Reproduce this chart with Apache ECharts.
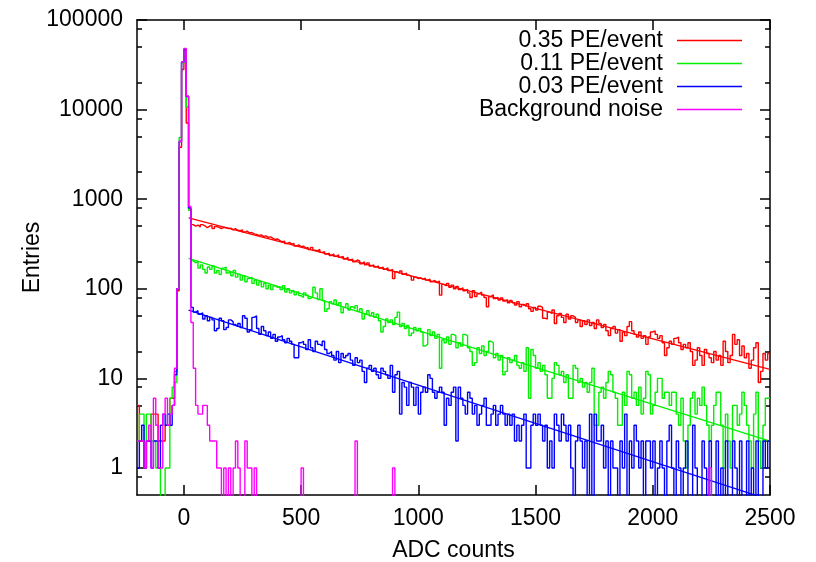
<!DOCTYPE html>
<html><head><meta charset="utf-8">
<script src="https://cdn.jsdelivr.net/npm/echarts@6/dist/echarts.min.js"></script>
<style>html,body{margin:0;padding:0;background:#fff}#c{width:816px;height:562px}</style>
</head><body><div id="c"></div>
<script>
// histogram bin layout (ADC counts): left edge of first bin and bin width
const binStart = -200, binWidth = 10;

// bin contents, 10 bins per row, rows start at -200, -100, 0, 100, ... 2400
const redCounts = [
  5,2,2,1,2,2,4,4,4,2,
  2,2,3,3,6,6,12,95,3800,28000,
  46000,7100,780,520,500,515,490,520,505,480,
  500,510,470,495,485,470,485,480,470,475,
  455,470,450,445,455,430,440,420,425,410,
  405,395,400,385,390,375,380,365,355,360,
  345,335,340,320,330,315,320,300,310,295,
  300,285,290,275,290,270,265,275,255,260,
  245,250,235,245,230,240,225,230,215,225,
  210,215,200,210,205,190,200,185,195,180,
  185,175,180,170,175,165,172,160,165,130,
  155,150,158,145,150,142,138,125,135,130,
  133,128,132,125,128,120,124,118,122,85,
  112,108,115,104,110,100,106,98,103,95,
  99,90,80,95,82,88,92,85,80,63,
  82,86,78,80,75,79,73,76,70,74,
  70,66,72,63,67,64,68,60,56,62,
  58,64,62,47,46,55,53,58,41,50,
  53,48,42,52,46,50,48,42,45,38,
  44,40,45,39,42,36,45,41,37,40,
  34,30,36,38,32,35,26,33,30,38,
  43,34,31,29,33,28,30,24,29,33,
  34,31,28,30,25,18,22,26,24,28,
  29,25,21,24,22,25,20,14,16,22,
  18,14,21,19,17,15,20,16,18,14,
  26,20,15,18,31,24,27,18,23,17,
  19,13,16,22,25,9,12,19,16,19
];
const greenCounts = [
  2,4,4,1,4,4,2,2,1,1,
  0,0,1,1,6,8,9,100,4900,33000,
  47000,10700,750,205,195,200,170,185,165,150,
  175,165,180,150,160,145,170,175,150,155,
  140,160,135,145,125,140,120,130,135,115,
  125,110,120,105,115,100,110,98,108,104,
  105,98,108,92,100,90,95,86,92,84,
  80,90,85,78,82,104,90,76,100,74,
  56,60,72,68,75,66,70,54,62,68,
  58,63,60,65,56,60,46,52,57,50,
  54,48,52,44,33,38,46,42,45,40,
  48,55,38,41,36,39,30,32,37,34,
  36,33,23,24,35,30,33,28,31,13,
  27,25,29,24,31,30,22,25,23,31,
  30,22,20,14,15,22,19,23,18,20,
  26,25,17,19,16,18,11,12,17,15,
  16,18,14,13,15,12,22,6,21,18,
  13,15,12,14,11,6,6,10,15,14,
  11,12,9,11,6,6,14,13,9,10,
  8,9,7,9,13,3,3,7,8,6,
  9,12,11,7,6,3,3,7,5,12,
  11,6,7,5,8,4,6,12,11,4,
  5,7,10,10,6,7,7,5,7,7,
  4,3,6,2,1,3,6,7,4,6,
  5,8,5,3,2,3,5,7,7,3,
  1,4,2,1,5,5,3,4,7,5,
  3,2,1,4,7,2,1,3,6,6
];
const blueCounts = [
  1,2,3,1,2,2,1,2,2,1,
  3,4,3,4,3,5,11,100,4400,34000,
  47000,14000,800,62,55,57,52,54,46,50,
  44,48,45,34,36,47,44,35,37,45,
  43,40,38,41,37,50,47,33,35,48,
  50,36,31,38,34,30,33,28,31,26,
  29,30,27,25,28,26,24,17,17,25,
  26,24,21,27,22,20,26,24,23,26,
  21,19,20,18,16,20,15,19,17,18,
  19,16,14,17,15,16,12,9,13,14,
  12,13,11,10,13,12,11,10,14,7,
  11,12,4,9,8,5,9,8,5,8,
  4,7,8,7,11,10,7,6,7,8,
  7,3,6,5,7,8,2,8,6,5,
  4,7,6,4,5,3,4,5,6,3,
  3,4,5,3,4,5,4,3,4,3,
  4,2,3,2,3,4,1,1,3,4,
  3,4,3,2,3,1,2,1,4,3,
  2,4,3,2,3,1,0,2,3,2,
  1,2,0,4,0,4,2,2,3,1,
  2,0,2,1,1,0,2,1,4,0,
  2,1,3,2,1,2,0,2,2,1,
  2,0,1,2,1,0,2,3,1,0,
  2,1,0,1,2,0,0,3,1,0,
  0,2,1,0,2,0,0,2,0,1,
  0,2,0,0,2,1,0,2,0,0,
  2,0,1,0,2,0,0,2,1,2
];
const noiseCounts = [
  2,2,2,1,2,3,1,6,3,1,
  1,4,6,3,4,5,13,100,4400,34000,
  48000,14200,830,42,13,5,4,4,5,5,
  3,2,2,2,1,1,0,1,0,1,
  0,1,2,1,0,0,2,1,1,0,
  1,0,0,0,0,0,0,0,0,0,
  0,0,0,0,0,0,0,0,0,0,
  1,0,0,0,0,0,0,0,0,0,
  0,0,0,0,0,0,0,0,0,0,
  0,0,0,2,0,0,0,0,0,0,
  0,0,0,0,0,0,0,0,0,1,
  0,0,0,0,0,0,0,0,0,0,
  0,0,0,0,0,0,0,0,0,0,
  0,0,0,0,0,0,0,0,0,0,
  0,0,0,0,0,0,0,0,0,0,
  0,0,0,0,0,0,0,0,0,0,
  0,0,0,0,0,0,0,0,0,0,
  0,0,0,0,0,0,0,0,0,0,
  0,0,0,0,0,0,0,0,0,0,
  0,0,0,0,0,0,0,0,0,0,
  0,0,0,0,0,0,0,0,0,0,
  0,0,0,0,0,0,0,0,0,0,
  0,0,0,0,0,0,0,0,0,0,
  0,0,0,0,0,0,0,0,0,0,
  0,0,0,0,1,0,0,0,0,0,
  0,0,0,0,0,0,0,0,0,0,
  0,0,0,0,0,0,0,0,0,0
];

// exponential fits: [ADC, entries] at both ends
const redFit = [[20, 620], [2500, 12.6]];
const greenFit = [[20, 219], [2500, 2.0]];
const blueFit = [[20, 58], [2500, 0.44]];

const seriesNames = ['0.35 PE/event', '0.11 PE/event', '0.03 PE/event', 'Background noise'];
const seriesColors = ['#ff0000', '#00f000', '#0000ff', '#ff00ff'];

const xTicks = [0, 500, 1000, 1500, 2000, 2500];
const yTicks = [1, 10, 100, 1000, 10000, 100000];
const yMinorTicks = [0.8, 2, 5, 8, 20, 50, 80, 200, 500, 800, 2000, 5000, 8000, 20000, 50000, 80000];

const X_MIN = -200, X_MAX = 2500, Y_MIN = 0.5, Y_MAX = 100000;
const EMPTY = 0.1; // empty bins drawn below the axis floor, as on a log plot

function stepData(counts) {
  const pts = counts.map((v, i) => [binStart + i * binWidth, v > 0 ? v : EMPTY]);
  const last = counts[counts.length - 1];
  pts.push([binStart + counts.length * binWidth, last > 0 ? last : EMPTY]);
  return pts;
}

const font = 'Liberation Sans, Arial, Helvetica, sans-serif';
const FS = 23;
const axisLineStyle = { color: '#000', width: 1.5 };

const chart = echarts.init(document.getElementById('c'), null, { renderer: 'canvas' });

const hist = [redCounts, greenCounts, blueCounts, noiseCounts];
const fits = [redFit, greenFit, blueFit];
const series = [];
hist.forEach((counts, k) => {
  series.push({
    name: seriesNames[k], type: 'line', step: 'end', data: stepData(counts),
    showSymbol: false, symbol: 'none', clip: true, xAxisIndex: 0, yAxisIndex: 0,
    lineStyle: { color: seriesColors[k], width: 1.4 }, itemStyle: { color: seriesColors[k] },
    z: 2 + k, silent: true
  });
  if (k < 3) {
    series.push({
      name: 'fit' + k, type: 'line', data: fits[k], showSymbol: false, symbol: 'none',
      clip: true, xAxisIndex: 0, yAxisIndex: 0,
      lineStyle: { color: seriesColors[k], width: 1.3 }, z: 2 + k, silent: true
    });
  }
});

const yBase = { type: 'log', logBase: 10, min: Y_MIN, max: Y_MAX, splitLine: { show: false } };
const xBase = { type: 'value', min: X_MIN, max: X_MAX, splitLine: { show: false } };

chart.setOption({
  animation: false,
  backgroundColor: '#fff',
  grid: { left: 137, right: 46, top: 20, bottom: 67, containLabel: false, outerBoundsMode: 'none' },
  legend: {
    data: seriesNames, orient: 'vertical', align: 'right', right: 74, top: 29, padding: 0,
    itemGap: 0, itemWidth: 65, itemHeight: 1.5, icon: 'rect',
    textStyle: { fontFamily: font, fontSize: FS, color: '#000', lineHeight: 23, padding: [0, 9, 0, 0] }
  },
  xAxis: [
    Object.assign({}, xBase, {
      position: 'bottom', name: 'ADC counts', nameLocation: 'middle', nameGap: 44,
      nameMoveOverlap: false,
      nameTextStyle: { fontFamily: font, fontSize: FS, color: '#000' },
      axisLine: { show: true, onZero: false, lineStyle: axisLineStyle },
      axisTick: { show: true, inside: true, length: 10, customValues: xTicks, lineStyle: axisLineStyle },
      axisLabel: { show: true, customValues: xTicks, margin: 12, fontFamily: font, fontSize: FS, color: '#000',
        formatter: v => String(v) }
    }),
    Object.assign({}, xBase, {
      position: 'top',
      axisLine: { show: true, onZero: false, lineStyle: axisLineStyle },
      axisTick: { show: true, inside: true, length: 10, customValues: xTicks, lineStyle: axisLineStyle },
      axisLabel: { show: false }
    })
  ],
  yAxis: [
    Object.assign({}, yBase, {
      position: 'left', name: 'Entries', nameLocation: 'middle', nameGap: 93,
      nameMoveOverlap: false,
      nameTextStyle: { fontFamily: font, fontSize: FS, color: '#000' },
      axisLine: { show: true, onZero: false, lineStyle: axisLineStyle },
      axisTick: { show: true, inside: true, length: 10, customValues: yTicks, lineStyle: axisLineStyle },
      axisLabel: { show: true, customValues: yTicks, margin: 14, fontFamily: font, fontSize: FS, color: '#000',
        formatter: v => String(Math.round(v)) }
    }),
    Object.assign({}, yBase, {
      position: 'left',
      axisLine: { show: false, onZero: false },
      axisTick: { show: true, inside: true, length: 5, customValues: yMinorTicks, lineStyle: axisLineStyle },
      axisLabel: { show: false }
    }),
    Object.assign({}, yBase, {
      position: 'right',
      axisLine: { show: true, onZero: false, lineStyle: axisLineStyle },
      axisTick: { show: true, inside: true, length: 10, customValues: yTicks, lineStyle: axisLineStyle },
      axisLabel: { show: false }
    }),
    Object.assign({}, yBase, {
      position: 'right',
      axisLine: { show: false, onZero: false },
      axisTick: { show: true, inside: true, length: 5, customValues: yMinorTicks, lineStyle: axisLineStyle },
      axisLabel: { show: false }
    })
  ],
  series: series
});
</script>
</body></html>
